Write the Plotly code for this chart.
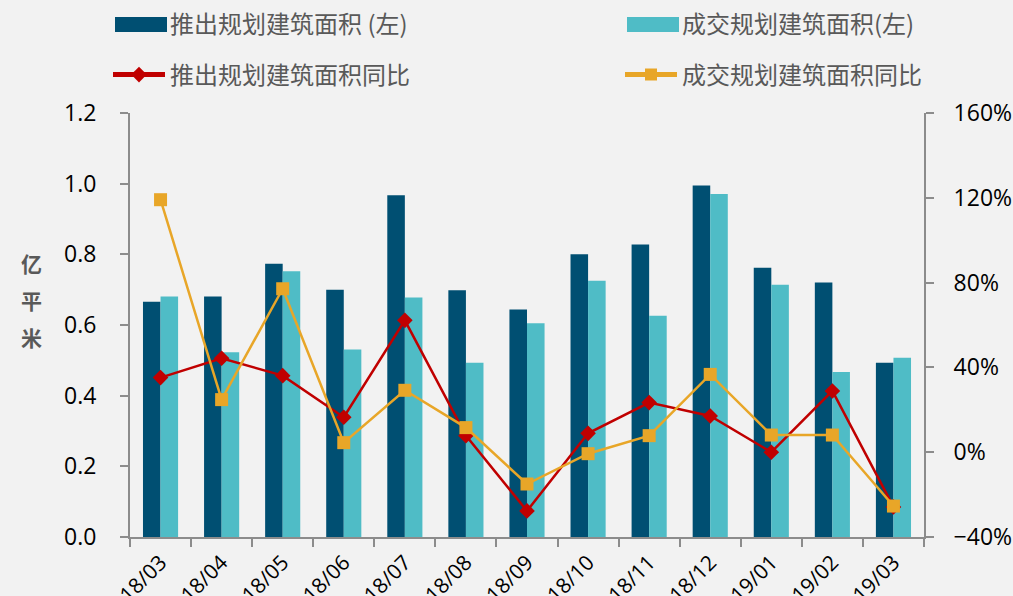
import plotly.graph_objects as go

months = ["18/03", "18/04", "18/05", "18/06", "18/07", "18/08", "18/09",
          "18/10", "18/11", "18/12", "19/01", "19/02", "19/03"]
launch_area = [0.666, 0.681, 0.773, 0.700, 0.967, 0.698, 0.644,
               0.800, 0.828, 0.995, 0.762, 0.720, 0.493]
deal_area = [0.681, 0.523, 0.752, 0.531, 0.678, 0.493, 0.605,
             0.725, 0.626, 0.971, 0.714, 0.467, 0.507]
launch_yoy = [35.2, 44.3, 36.1, 16.5, 62.2, 7.8, -27.7,
              8.9, 23.4, 17.1, 0.0, 28.9, -25.8]
deal_yoy = [119.1, 24.8, 77.1, 4.5, 29.2, 11.6, -15.0,
            -0.7, 7.8, 36.7, 8.1, 8.1, -25.4]

names = ["推出规划建筑面积 (左)", "成交规划建筑面积(左)", "推出规划建筑面积同比", "成交规划建筑面积同比"]
unit_chars = ["亿", "平", "米"]

DARK = "#004f72"
LIGHT = "#4fbcc6"
RED = "#c00000"
ORANGE = "#e8a628"
AXIS = "#8c8c8c"
BG = "#f2f2f2"
CJK = "Noto Sans CJK SC"
NUM = "Open Sans"

W, H = 1013, 596
L, R, T, B = 130, 89, 113, 59
PW, PH = W - L - R, H - T - B


def px(xs):
    return (xs - L) / PW


def py(ys):
    return (H - B - ys) / PH


fig = go.Figure()
fig.add_trace(go.Bar(x=months, y=launch_area, name=names[0], marker=dict(color=DARK, line=dict(width=0)),
                     legend="legend2"))
fig.add_trace(go.Bar(x=months, y=deal_area, name=names[1], marker=dict(color=LIGHT, line=dict(width=0)),
                     legend="legend3"))
fig.add_trace(go.Scatter(x=months, y=launch_yoy, name=names[2], yaxis="y2", mode="lines+markers",
                         line=dict(color=RED, width=2.5),
                         marker=dict(symbol="diamond", size=12, color=RED), legend="legend4"))
fig.add_trace(go.Scatter(x=months, y=deal_yoy, name=names[3], yaxis="y2", mode="lines+markers",
                         line=dict(color=ORANGE, width=2.5),
                         marker=dict(symbol="square", size=13, color=ORANGE), legend="legend5"))

leg_font = dict(family=CJK, size=24, color="#595959")


def leg(xs, ys):
    return dict(x=px(xs), y=py(ys), xref="paper", yref="paper",
                xanchor="left", yanchor="middle",
                bgcolor="rgba(0,0,0,0)", font=leg_font, itemwidth=52, orientation="v",
                itemsizing="constant")


# wide rectangular legend keys for the two bar series
key_shapes = []
for x0, col in [(115, DARK), (627, LIGHT)]:
    key_shapes.append(dict(type="rect", xref="paper", yref="paper",
                           x0=px(x0), x1=px(x0 + 52), y0=py(32), y1=py(17),
                           fillcolor=col, line=dict(width=0), layer="below"))

annots = []
for i, ch in enumerate(unit_chars):
    annots.append(dict(text="<b>%s</b>" % ch, x=px(31), y=py(263 + 37 * i),
                       xref="paper", yref="paper", showarrow=False,
                       xanchor="center", yanchor="middle",
                       font=dict(family=CJK, size=21, color="#595959")))

fig.update_layout(
    width=W, height=H,
    margin=dict(l=L, r=R, t=T, b=B, autoexpand=False),
    paper_bgcolor=BG, plot_bgcolor=BG,
    barmode="group", bargap=0.425, bargroupgap=0,
    font=dict(family=NUM, color="#000000"),
    legend2=leg(108, 24.5),
    legend3=leg(620, 24.5),
    legend4=leg(108, 75),
    legend5=leg(620, 75),
    xaxis=dict(range=[-0.5, 12.5], showline=True, linecolor=AXIS, linewidth=2, ticks="outside",
               tickson="boundaries", ticklen=8, tickcolor=AXIS, tickwidth=1.5, tickangle=-45,
               ticklabelstandoff=3,
               tickfont=dict(family=NUM, size=21, color="#000"), showgrid=False, zeroline=False),
    yaxis=dict(range=[0, 1.2], dtick=0.2, tickformat=".1f", showline=True, linecolor=AXIS, linewidth=2,
               ticks="outside", ticklen=8, tickcolor=AXIS, tickwidth=1.5, showgrid=False, zeroline=False,
               ticklabelstandoff=19, tickfont=dict(family=NUM, size=23, color="#000")),
    yaxis2=dict(range=[-40, 160], dtick=40, ticksuffix="%", overlaying="y", side="right",
                showline=True, linecolor=AXIS, linewidth=2, ticks="outside", ticklen=8, tickcolor=AXIS,
                tickwidth=1.5, showgrid=False, zeroline=False, ticklabelstandoff=15,
                tickfont=dict(family=NUM, size=23, color="#000")),
    shapes=key_shapes,
    annotations=annots,
)

fig.write_html("out.html", config={"displayModeBar": False},
               post_script="document.body.style.margin='0';document.body.style.background='%s';" % BG)
